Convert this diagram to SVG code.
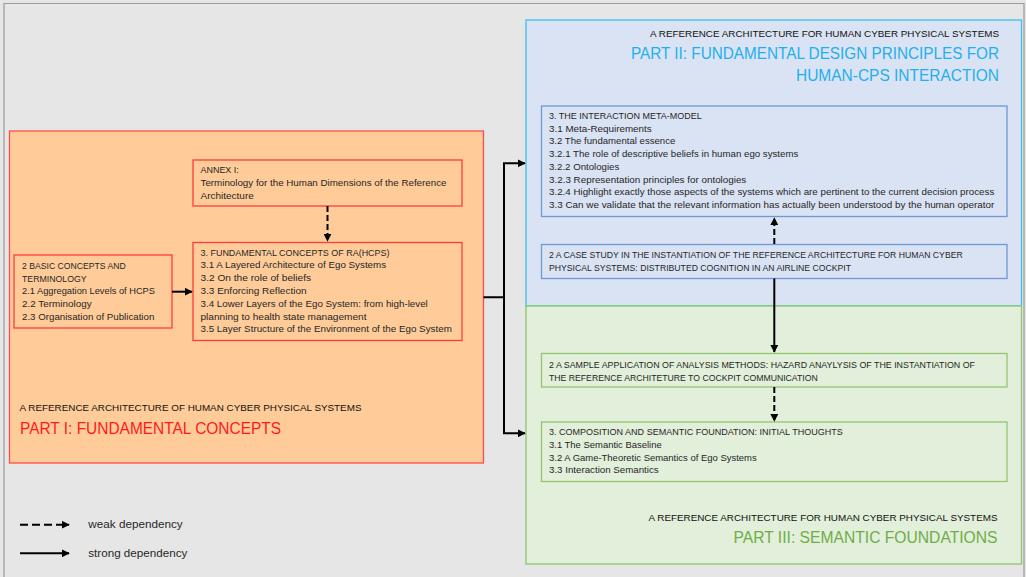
<svg xmlns="http://www.w3.org/2000/svg" width="1026" height="577" viewBox="0 0 1026 577">
<defs>
<style>
text{font-family:"Liberation Sans",Arial,sans-serif;fill:#262626}
.b{font-size:9.5px}
.h{font-size:9.8px;fill:#111}
.big{font-size:16px}
.lg{font-size:11px}
.c{fill:none;stroke:#000;stroke-width:2}
.d{stroke-dasharray:6 3}
.dl{stroke-dasharray:8 4}
.p1{fill:#ffcc99;stroke:#ff4d4d;stroke-width:1.3}
.r1{fill:none;stroke:#ff3b3b;stroke-width:1.3}
.p2{fill:#dae3f3;stroke:#3dbdf0;stroke-width:1.3}
.r2{fill:none;stroke:#6f98d8;stroke-width:1.3}
.p3{fill:#e2efda;stroke:#8cc76a;stroke-width:1.3}
.r3{fill:none;stroke:#93c572;stroke-width:1.3}
</style>
<marker id="ah" viewBox="0 0 10 10" refX="9" refY="5" markerWidth="4" markerHeight="4" orient="auto" markerUnits="strokeWidth">
<path d="M0,0 L10,5 L0,10 z" fill="#000"/>
</marker>
</defs>
<rect x="0" y="0" width="1026" height="577" fill="#e6e6e6"/>
<path d="M4,577 V3.5 H1024 V577" fill="none" stroke="#9a9a9a" stroke-width="1.2"/>

<g id="part1">
<rect class="p1" x="9.5" y="131" width="474" height="332"/>
<text class="h" x="19.5" y="411" textLength="342" lengthAdjust="spacingAndGlyphs">A REFERENCE ARCHITECTURE OF HUMAN CYBER PHYSICAL SYSTEMS</text>
<text class="big" x="20" y="434" textLength="261" lengthAdjust="spacingAndGlyphs" style="fill:#ff1a1a">PART I: FUNDAMENTAL CONCEPTS</text>
</g>
<g id="part2">
<rect class="p2" x="526" y="20" width="495.5" height="286"/>
<text class="h" x="650" y="37" textLength="349" lengthAdjust="spacingAndGlyphs">A REFERENCE ARCHITECTURE FOR HUMAN CYBER PHYSICAL SYSTEMS</text>
<text class="big" x="631" y="59" textLength="368" lengthAdjust="spacingAndGlyphs" style="fill:#1eb0ee">PART II: FUNDAMENTAL DESIGN PRINCIPLES FOR</text>
<text class="big" x="796" y="81" textLength="203" lengthAdjust="spacingAndGlyphs" style="fill:#1eb0ee">HUMAN-CPS INTERACTION</text>
</g>
<g id="part3">
<rect class="p3" x="526" y="306" width="495.5" height="258"/>
<text class="h" x="648.5" y="521" textLength="349" lengthAdjust="spacingAndGlyphs">A REFERENCE ARCHITECTURE FOR HUMAN CYBER PHYSICAL SYSTEMS</text>
<text class="big" x="733.5" y="543" textLength="264" lengthAdjust="spacingAndGlyphs" style="fill:#70ad47">PART III: SEMANTIC FOUNDATIONS</text>
</g>

<g id="annex">
<rect class="r1" x="193" y="160" width="269" height="46"/>
<text class="b" x="200.5" y="173" textLength="38.3" lengthAdjust="spacingAndGlyphs">ANNEX I:</text>
<text class="b" x="200.5" y="186" textLength="246" lengthAdjust="spacingAndGlyphs">Terminology for the Human Dimensions of the Reference</text>
<text class="b" x="200.5" y="198.7" textLength="53.3" lengthAdjust="spacingAndGlyphs">Architecture</text>
</g>
<g id="basic">
<rect class="r1" x="14" y="255" width="158" height="73"/>
<text class="b" x="22" y="269" textLength="103.7" lengthAdjust="spacingAndGlyphs">2 BASIC CONCEPTS AND</text>
<text class="b" x="22" y="281.7" textLength="64.7" lengthAdjust="spacingAndGlyphs">TERMINOLOGY</text>
<text class="b" x="22" y="294.4" textLength="133" lengthAdjust="spacingAndGlyphs">2.1 Aggregation Levels of HCPS</text>
<text class="b" x="22" y="307.1" textLength="69.7" lengthAdjust="spacingAndGlyphs">2.2 Terminology</text>
<text class="b" x="22" y="319.8" textLength="132.3" lengthAdjust="spacingAndGlyphs">2.3 Organisation of Publication</text>
</g>
<g id="fundamental">
<rect class="r1" x="193" y="242.5" width="269" height="98"/>
<text class="b" x="200.5" y="255.5" textLength="189" lengthAdjust="spacingAndGlyphs">3. FUNDAMENTAL CONCEPTS OF RA(HCPS)</text>
<text class="b" x="200.5" y="268.3" textLength="185.6" lengthAdjust="spacingAndGlyphs">3.1 A Layered Architecture of Ego Systems</text>
<text class="b" x="200.5" y="281.1" textLength="110.6" lengthAdjust="spacingAndGlyphs">3.2 On the role of beliefs</text>
<text class="b" x="200.5" y="293.9" textLength="106" lengthAdjust="spacingAndGlyphs">3.3 Enforcing Reflection</text>
<text class="b" x="200.5" y="306.7" textLength="227.3" lengthAdjust="spacingAndGlyphs">3.4 Lower Layers of the Ego System: from high-level</text>
<text class="b" x="200.5" y="319.5" textLength="166" lengthAdjust="spacingAndGlyphs">planning to health state management</text>
<text class="b" x="200.5" y="332.3" textLength="251.3" lengthAdjust="spacingAndGlyphs">3.5 Layer Structure of the Environment of the Ego System</text>
</g>
<g id="metamodel">
<rect class="r2" x="541.5" y="106" width="465.5" height="110.5"/>
<text class="b" x="549" y="119" textLength="152.7" lengthAdjust="spacingAndGlyphs">3. THE INTERACTION META-MODEL</text>
<text class="b" x="549" y="131.7" textLength="102.7" lengthAdjust="spacingAndGlyphs">3.1 Meta-Requirements</text>
<text class="b" x="549" y="144.4" textLength="126.3" lengthAdjust="spacingAndGlyphs">3.2 The fundamental essence</text>
<text class="b" x="549" y="157.1" textLength="249.3" lengthAdjust="spacingAndGlyphs">3.2.1 The role of descriptive beliefs in human ego systems</text>
<text class="b" x="549" y="169.8" textLength="70.3" lengthAdjust="spacingAndGlyphs">3.2.2 Ontologies</text>
<text class="b" x="549" y="182.5" textLength="197.3" lengthAdjust="spacingAndGlyphs">3.2.3 Representation principles for ontologies</text>
<text class="b" x="549" y="195.2" textLength="445.3" lengthAdjust="spacingAndGlyphs">3.2.4 Highlight exactly those aspects of the systems which are pertinent to the current decision process</text>
<text class="b" x="549" y="207.9" textLength="445.3" lengthAdjust="spacingAndGlyphs">3.3 Can we validate that the relevant information has actually been understood by the human operator</text>
</g>
<g id="casestudy">
<rect class="r2" x="541.5" y="244.5" width="465.5" height="34"/>
<text class="b" x="549" y="258" textLength="413.7" lengthAdjust="spacingAndGlyphs">2 A CASE STUDY IN THE INSTANTIATION OF THE REFERENCE ARCHITECTURE FOR HUMAN CYBER</text>
<text class="b" x="549" y="271" textLength="302" lengthAdjust="spacingAndGlyphs">PHYSICAL SYSTEMS: DISTRIBUTED COGNITION IN AN AIRLINE COCKPIT</text>
</g>
<g id="sample">
<rect class="r3" x="541.5" y="353.5" width="465.5" height="33.5"/>
<text class="b" x="549" y="368" textLength="426" lengthAdjust="spacingAndGlyphs">2 A SAMPLE APPLICATION OF ANALYSIS METHODS: HAZARD ANAYLYSIS OF THE INSTANTIATION OF</text>
<text class="b" x="549" y="380.5" textLength="268.7" lengthAdjust="spacingAndGlyphs">THE REFERENCE ARCHITETURE TO COCKPIT COMMUNICATION</text>
</g>
<g id="composition">
<rect class="r3" x="541.5" y="422" width="465.5" height="59.5"/>
<text class="b" x="549" y="435.3" textLength="293.7" lengthAdjust="spacingAndGlyphs">3. COMPOSITION AND SEMANTIC FOUNDATION: INITIAL THOUGHTS</text>
<text class="b" x="549" y="448" textLength="112.7" lengthAdjust="spacingAndGlyphs">3.1 The Semantic Baseline</text>
<text class="b" x="549" y="460.7" textLength="207.7" lengthAdjust="spacingAndGlyphs">3.2 A Game-Theoretic Semantics of Ego Systems</text>
<text class="b" x="549" y="473.4" textLength="109.7" lengthAdjust="spacingAndGlyphs">3.3 Interaction Semantics</text>
</g>

<g id="connectors">
<line class="c" x1="172" y1="291.7" x2="192" y2="291.7" marker-end="url(#ah)"/>
<line class="c d" x1="327.5" y1="206" x2="327.5" y2="241" marker-end="url(#ah)"/>
<path class="c" d="M483.5,297.3 H504 V163.3 H525" marker-end="url(#ah)"/>
<path class="c" d="M504,297.3 V433.3 H525" marker-end="url(#ah)"/>
<line class="c d" x1="774.3" y1="244" x2="774.3" y2="218" marker-end="url(#ah)"/>
<line class="c" x1="774.3" y1="278.5" x2="774.3" y2="352" marker-end="url(#ah)"/>
<line class="c d" x1="774.3" y1="387" x2="774.3" y2="421" marker-end="url(#ah)"/>
</g>

<g id="legend">
<line class="c dl" x1="20" y1="524.7" x2="69" y2="524.7" marker-end="url(#ah)"/>
<text class="lg" x="88.3" y="528" textLength="94.4" lengthAdjust="spacingAndGlyphs">weak dependency</text>
<line class="c" x1="20" y1="553.3" x2="69" y2="553.3" marker-end="url(#ah)"/>
<text class="lg" x="88.3" y="556.7" textLength="99" lengthAdjust="spacingAndGlyphs">strong dependency</text>
</g>
</svg>
